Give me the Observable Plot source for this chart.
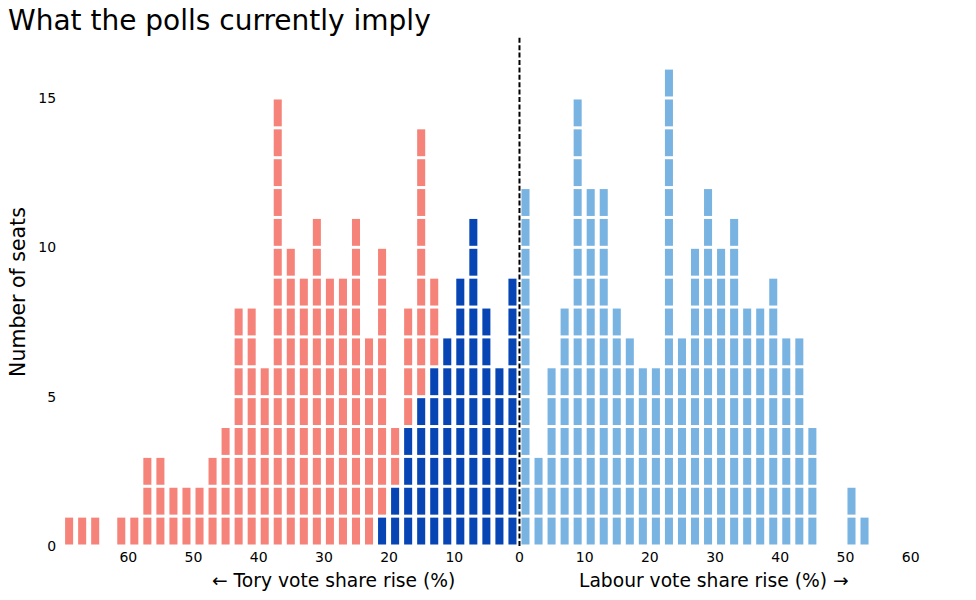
<!DOCTYPE html>
<html>
<head>
<meta charset="utf-8">
<script src="https://cdn.jsdelivr.net/npm/d3@7"></script>
<script src="https://cdn.jsdelivr.net/npm/@observablehq/plot@0.6"></script>
<style>
  html, body { margin: 0; padding: 0; background: #fff; }
  #wrap { position: relative; width: 976px; height: 600px; }
  #title { position: absolute; left: 8px; top: 7px; font: 28px "DejaVu Sans", sans-serif; line-height: 1; color: #000; white-space: nowrap; }
</style>
</head>
<body>
<div id="wrap">
  <div id="chart"></div>
  <div id="title">What the polls currently imply</div>
</div>
<script>
// Tory side: bin centres of Tory vote share rise (%), 2-point bins
const toryRise = [69, 67, 65, 63, 61, 59, 57, 55, 53, 51, 49, 47, 45, 43, 41, 39, 37, 35,
                  33, 31, 29, 27, 25, 23, 21, 19, 17, 15, 13, 11, 9, 7, 5, 3, 1];
// seats drawn in dark blue (bottom of each stack)
const toryBlueSeats = [0, 0, 0, 0, 0, 0, 0, 0, 0, 0, 0, 0, 0, 0, 0, 0, 0, 0,
                       0, 0, 0, 0, 0, 0, 1, 2, 4, 5, 6, 7, 9, 11, 8, 6, 9];
// seats drawn in salmon (stacked above)
const torySalmonSeats = [1, 1, 1, 0, 1, 1, 3, 3, 2, 2, 2, 3, 4, 8, 8, 6, 15, 10,
                         9, 11, 9, 9, 11, 7, 9, 2, 4, 9, 3, 0, 0, 0, 0, 0, 0];
// Labour side: bin centres of Labour vote share rise (%)
const labourRise = [1, 3, 5, 7, 9, 11, 13, 15, 17, 19, 21, 23, 25, 27, 29, 31, 33, 35,
                    37, 39, 41, 43, 45, 47, 49, 51, 53];
const labourSeats = [12, 3, 6, 8, 15, 12, 12, 8, 7, 6, 6, 16, 7, 10, 12, 10, 11, 8,
                     8, 9, 7, 7, 4, 0, 0, 2, 1];

const xTicks = [-60, -50, -40, -30, -20, -10, 0, 10, 20, 30, 40, 50, 60];
const yTicks = [0, 5, 10, 15];

const colours = {salmon: "#f5837a", dark: "#0645b3", light: "#79b3e2"};

// one cell per seat
const cells = [];
toryRise.forEach((r, i) => {
  const x = -r;
  let k = 0;
  for (let j = 0; j < toryBlueSeats[i]; j++) { k++; cells.push({x, row: k, group: "dark"}); }
  for (let j = 0; j < torySalmonSeats[i]; j++) { k++; cells.push({x, row: k, group: "salmon"}); }
});
labourRise.forEach((r, i) => {
  for (let k = 1; k <= labourSeats[i]; k++) cells.push({x: r, row: k, group: "light"});
});

const chart = Plot.plot({
  width: 976,
  height: 600,
  marginLeft: 62.6,
  marginRight: 52.8,
  marginTop: 68.1,
  marginBottom: 54,
  style: {fontFamily: "DejaVu Sans, sans-serif", fontSize: "14px", color: "#000", background: "#fff"},
  x: {domain: [-70, 62], ticks: xTicks, tickFormat: d => Math.abs(d), tickSize: 0, tickPadding: 6, label: null},
  y: {domain: [0, 16], ticks: yTicks, tickSize: 0, tickPadding: 7, label: null},
  marks: [
    Plot.rect(cells, {
      x1: d => d.x - 1, x2: d => d.x + 1,
      y1: d => d.row - 1, y2: d => d.row,
      fill: d => colours[d.group],
      insetLeft: 2.5, insetRight: 2.5, insetTop: 1.5, insetBottom: 1.5
    }),
    Plot.ruleX([0], {y1: 0, y2: 17.05, stroke: "#000", strokeWidth: 2, strokeDasharray: "5,2.4"}),
    Plot.text(["← Tory vote share rise (%)"], {x: -28.5, frameAnchor: "bottom", dy: 35, text: d => d, fontSize: 18.7, textAnchor: "middle", lineAnchor: "middle", fill: "#000"}),
    Plot.text(["Labour vote share rise (%) →"], {x: 29.8, frameAnchor: "bottom", dy: 35, text: d => d, fontSize: 18.7, textAnchor: "middle", lineAnchor: "middle", fill: "#000"}),
    Plot.text(["Number of seats"], {y: 8.52, frameAnchor: "left", dx: -44.6, rotate: -90, text: d => d, fontSize: 20.5, textAnchor: "middle", lineAnchor: "middle", fill: "#000"})
  ]
});
document.getElementById("chart").appendChild(chart);
</script>
</body>
</html>
